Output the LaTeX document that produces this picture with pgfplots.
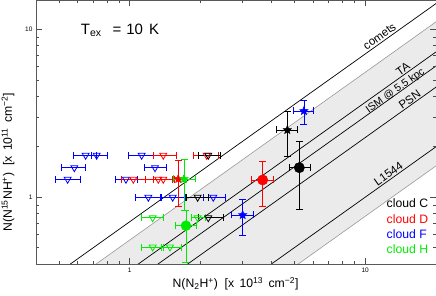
\documentclass[border=0pt]{standalone}
\usepackage{fontspec}
\setmainfont{Liberation Sans}
\usepackage{pgfplots}
\pgfplotsset{compat=1.18}
\usetikzlibrary{plotmarks}
\definecolor{mygreen}{RGB}{0,235,0}
\definecolor{shade}{RGB}{235,235,235}
\pgfdeclareplotmark{fstar}{%
  \pgfpathmoveto{\pgfpointpolar{90}{\pgfplotmarksize}}%
  \pgfpathlineto{\pgfpointpolar{126}{0.45\pgfplotmarksize}}%
  \pgfpathlineto{\pgfpointpolar{162}{\pgfplotmarksize}}%
  \pgfpathlineto{\pgfpointpolar{198}{0.45\pgfplotmarksize}}%
  \pgfpathlineto{\pgfpointpolar{234}{\pgfplotmarksize}}%
  \pgfpathlineto{\pgfpointpolar{270}{0.45\pgfplotmarksize}}%
  \pgfpathlineto{\pgfpointpolar{306}{\pgfplotmarksize}}%
  \pgfpathlineto{\pgfpointpolar{342}{0.45\pgfplotmarksize}}%
  \pgfpathlineto{\pgfpointpolar{18}{\pgfplotmarksize}}%
  \pgfpathlineto{\pgfpointpolar{54}{0.45\pgfplotmarksize}}%
  \pgfpathclose
  \pgfusepathqfillstroke}
\begin{document}
\begin{tikzpicture}
\begin{axis}[
  scale only axis, width=400pt, height=264pt,
  xmode=log, ymode=log,
  xmin=0.4, xmax=20, ymin=0.4, ymax=15,
  xtick={1,10}, xticklabels={1,10},
  ytick={1,10}, yticklabels={1,10},
  minor xtick={0.4,0.5,0.6,0.7,0.8,0.9,2,3,4,5,6,7,8,9,20},
  minor ytick={0.4,0.5,0.6,0.7,0.8,0.9,2,3,4,5,6,7,8,9},
  major tick length=6pt, minor tick length=3pt,
  tick style={black!70, line width=0.6pt},
  axis line style={black!65, line width=0.9pt},
  tick label style={font=\fontsize{6.5}{7}\selectfont},
  /pgf/number format/assume math mode=true,
  axis on top,
  clip=true,
  xlabel={N(N\textsubscript{2}H\textsuperscript{+})\ \ [x\ \,10\textsuperscript{13}\ \,cm\textsuperscript{−2}]},
  ylabel={N(N\textsuperscript{15}NH\textsuperscript{+})\ \ [x\ \,10\textsuperscript{11}\ \,cm\textsuperscript{−2}]},
  label style={font=\fontsize{12.2}{14}\selectfont},
  xlabel style={at={(axis description cs:0.499,-0.074)}, anchor=center},
  ylabel style={at={(axis description cs:-0.07,0.386)}, anchor=center},
  error bars/error bar style={line width=0.7pt, solid},
  error bars/error mark options={rotate=90, mark size=3.5pt, line width=0.7pt, solid},
]
% shaded range (14N/15N = 180 to 1300)
\addplot[fill=shade, draw=none, forget plot] coordinates {(0.2,0.11111) (30,16.6667) (30,2.30769) (0.2,0.015385)} -- cycle;
% model lines
\addplot[gray!80, line width=0.6pt] coordinates {(0.2,0.11111) (30,16.6667)};
\addplot[gray!80, line width=0.6pt] coordinates {(0.2,0.015385) (30,2.30769)};
\addplot[black, line width=0.7pt] coordinates {(0.2,0.142857) (30,21.4286)};
\addplot[black, line width=0.7pt] coordinates {(0.2,0.073529) (30,11.0294)};
\addplot[black, line width=0.7pt] coordinates {(0.2,0.060606) (30,9.09091)};
\addplot[black, line width=0.7pt] coordinates {(0.2,0.045351) (30,6.80272)};
\addplot[black, line width=0.7pt] coordinates {(0.2,0.02) (30,3.0)};
% upper limits: blue
\addplot[blue, only marks, mark=triangle, mark size=4pt, mark options={rotate=180, line width=0.8pt},
  error bars/.cd, x dir=both, x explicit] coordinates {
  (0.650,1.78) += (0.074,0) -= (0.074,0)
  (0.724,1.78) += (0.082,0) -= (0.039,0)
  (1.124,1.78) += (0.136,0) -= (0.138,0)
  (0.582,1.50) += (0.068,0) -= (0.071,0)
  (1.281,1.50) += (0.155,0) -= (0.128,0)
  (0.545,1.28) += (0.070,0) -= (0.064,0)
  (0.964,1.28) += (0.110,0) -= (0.098,0)
  (1.200,1.00) += (0.145,0) -= (0.147,0)
  (1.523,1.00) += (0.195,0) -= (0.156,0)
  (2.265,1.00) += (0.274,0) -= (0.217,0)
};
% upper limits: red
\addplot[red, only marks, mark=triangle, mark size=4pt, mark options={rotate=180, line width=0.8pt},
  error bars/.cd, x dir=both, x explicit] coordinates {
  (1.389,1.78) += (0.195,0) -= (0.129,0)
  (2.123,1.78) += (0.256,0) -= (0.261,0)
  (1.036,1.28) += (0.125,0) -= (0.112,0)
  (1.323,1.28) += (0.190,0) -= (0.160,0)
  (1.389,1.28) += (0.160,0) -= (0.130,0)
};
% upper limits: black
\addplot[black, only marks, mark=triangle, mark size=4pt, mark options={rotate=180, line width=0.8pt},
  error bars/.cd, x dir=both, x explicit] coordinates {
  (2.157,1.78) += (0.262,0) -= (0.207,0)
  (1.944,1.00) += (0.213,0) -= (0.198,0)
  (2.157,0.755) += (0.334,0) -= (0.207,0)
};
% upper limits: green
\addplot[mygreen, only marks, mark=triangle, mark size=4pt, mark options={rotate=180, line width=0.8pt},
  error bars/.cd, x dir=both, x explicit] coordinates {
  (1.252,0.755) += (0.137,0) -= (0.128,0)
  (1.944,0.755) += (0.156,0) -= (0.123,0)
  (1.252,0.505) += (0.137,0) -= (0.128,0)
  (1.483,0.505) += (0.180,0) -= (0.116,0)
};
% detections: stars
\addplot[black, only marks, mark=fstar, mark size=4.5pt,
  error bars/.cd, x dir=both, x explicit, y dir=both, y explicit] coordinates {
  (4.672,2.519) += (0.48,0.751) -= (0.46,0.756)
};
\addplot[blue, only marks, mark=fstar, mark size=4.5pt,
  error bars/.cd, x dir=both, x explicit, y dir=both, y explicit] coordinates {
  (5.496,3.27) += (0.529,0.53) -= (0.542,0.545)
  (3.019,0.784) += (0.331,0.189) -= (0.307,0.193)
};
\addplot[red, only marks, mark=fstar, mark size=4.5pt,
  error bars/.cd, x dir=both, x explicit, y dir=both, y explicit] coordinates {
  (1.608,1.286) += (0.076,0.382) -= (0.080,0.407)
};
\addplot[mygreen, only marks, mark=fstar, mark size=4.5pt,
  error bars/.cd, x dir=both, x explicit, y dir=both, y explicit] coordinates {
  (1.701,1.286) += (0.192,0.399) -= (0.174,0.446)
};
% detections: circles
\addplot[black, only marks, mark=*, mark size=5.2pt,
  error bars/.cd, x dir=both, x explicit, y dir=both, y explicit] coordinates {
  (5.254,1.501) += (0.576,0.666) -= (0.49,0.653)
};
\addplot[red, only marks, mark=*, mark size=5.2pt,
  error bars/.cd, x dir=both, x explicit, y dir=both, y explicit] coordinates {
  (3.672,1.268) += (0.402,0.362) -= (0.372,0.381)
};
\addplot[mygreen, only marks, mark=*, mark size=5pt,
  error bars/.cd, x dir=both, x explicit, y dir=both, y explicit] coordinates {
  (1.734,0.677) += (0.179,0.163) -= (0.174,0.266)
};
% texts
\node[font=\fontsize{15}{15}\selectfont] at (rel axis cs:0.21,0.886)
  {T\textsubscript{ex}\hspace{11pt}=\hspace{5pt}10\hspace{6pt}K};
\tikzset{linelab/.style={rotate=35.47, anchor=south, inner sep=1pt, text depth=0pt, font=\fontsize{11.5}{12}\selectfont}}
\node[linelab, inner sep=2pt] at (axis cs:11.91,8.51) {comets};
\node[linelab] at (axis cs:14.92,5.485) {TA};
\node[linelab, inner sep=0.4pt, font=\fontsize{10.5}{12}\selectfont] at (axis cs:13.70,4.15) {ISM @ 5.5 kpc};
\node[linelab] at (axis cs:15.93,3.61) {PSN};
\node[linelab, inner sep=1.5pt] at (axis cs:12.97,1.297) {L1544};
\tikzset{leglab/.style={anchor=west, font=\fontsize{12.2}{13}\selectfont}}
\node[leglab, text=black] at (rel axis cs:0.868,0.231) {cloud C};
\node[leglab, text=red] at (rel axis cs:0.868,0.170) {cloud D};
\node[leglab, text=blue] at (rel axis cs:0.868,0.1136) {cloud F};
\node[leglab, text=mygreen] at (rel axis cs:0.868,0.0568) {cloud H};
\end{axis}
\pgfresetboundingbox
\path (-36pt,-32pt) rectangle (400pt,264pt);
\end{tikzpicture}
\end{document}
